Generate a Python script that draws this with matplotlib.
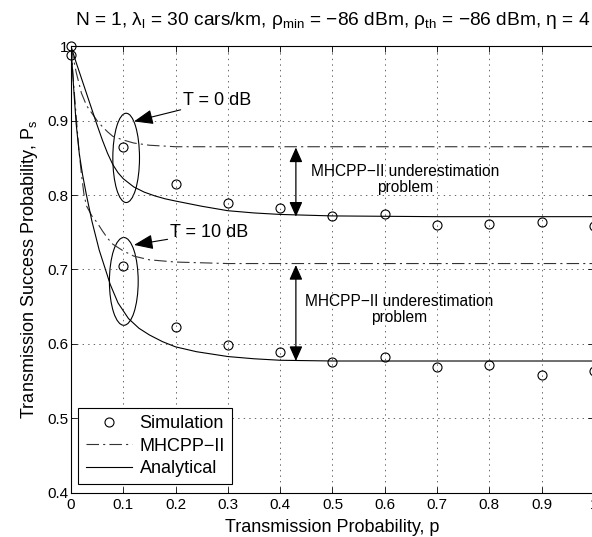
import matplotlib
matplotlib.use("Agg")
import matplotlib.pyplot as plt
from matplotlib.patches import Ellipse

plt.rcParams["font.family"] = ["Liberation Sans", "DejaVu Sans"]
plt.rcParams["mathtext.fontset"] = "custom"
plt.rcParams["mathtext.rm"] = "Liberation Sans"
plt.rcParams["mathtext.it"] = "Liberation Sans:italic"
plt.rcParams["lines.scale_dashes"] = False

# --- simulation points ---
p_sim = [0.0, 0.1, 0.2, 0.3, 0.4, 0.5, 0.6, 0.7, 0.8, 0.9, 1.0]
sim_t0 = [1.0, 0.864, 0.815, 0.790, 0.782, 0.772, 0.774, 0.760, 0.761, 0.764, 0.759]
sim_t10 = [0.988, 0.705, 0.623, 0.598, 0.589, 0.576, 0.583, 0.569, 0.571, 0.558, 0.564]

# --- analytical curves ---
p_ana_t0 = [0.0, 0.01, 0.02, 0.03, 0.04, 0.05, 0.06, 0.07, 0.08, 0.09, 0.10,
            0.12, 0.14, 0.16, 0.18, 0.20, 0.25, 0.30, 0.35, 0.40, 0.50, 0.70, 1.0]
ana_t0 = [1.0, 0.978, 0.957, 0.936, 0.915, 0.894, 0.874, 0.856, 0.841, 0.830, 0.822,
          0.811, 0.804, 0.799, 0.795, 0.792, 0.785, 0.779, 0.776, 0.774, 0.772, 0.771, 0.771]

p_ana_t10 = [0.0, 0.005, 0.01, 0.016, 0.022, 0.029, 0.04, 0.054, 0.065, 0.075, 0.09,
             0.11, 0.13, 0.15, 0.175, 0.20, 0.24, 0.30, 0.35, 0.40, 0.50, 0.70, 1.0]
ana_t10 = [1.0, 0.945, 0.895, 0.855, 0.828, 0.802, 0.765, 0.726, 0.702, 0.680, 0.655,
           0.634, 0.621, 0.612, 0.603, 0.596, 0.5895, 0.583, 0.580, 0.578, 0.577, 0.577, 0.577]

# --- MHCPP-II curves ---
p_mh_t0 = [0.0, 0.01, 0.02, 0.03, 0.04, 0.05, 0.06, 0.07, 0.08, 0.10, 0.12, 0.15, 0.20, 1.0]
mh_t0 = [1.0, 0.965, 0.937, 0.920, 0.910, 0.900, 0.892, 0.885, 0.879, 0.874, 0.870, 0.867, 0.865, 0.865]

p_mh_t10 = [0.0, 0.005, 0.01, 0.015, 0.02, 0.025, 0.03, 0.04, 0.05, 0.06, 0.07, 0.08,
            0.10, 0.12, 0.15, 0.20, 0.30, 1.0]
mh_t10 = [1.0, 0.95, 0.905, 0.862, 0.828, 0.800, 0.785, 0.772, 0.763, 0.752, 0.742, 0.734,
          0.725, 0.718, 0.713, 0.710, 0.708, 0.708]

x_ticks = [0, 0.1, 0.2, 0.3, 0.4, 0.5, 0.6, 0.7, 0.8, 0.9, 1.0]
x_labels = ["0", "0.1", "0.2", "0.3", "0.4", "0.5", "0.6", "0.7", "0.8", "0.9", "1"]
y_ticks = [0.4, 0.5, 0.6, 0.7, 0.8, 0.9, 1.0]
y_labels = ["0.4", "0.5", "0.6", "0.7", "0.8", "0.9", "1"]

fig = plt.figure(figsize=(5.92, 5.37), dpi=100)
ax = fig.add_axes([0.1199, 0.0825, 0.8835, 0.8313])

dashdot = (0, (9, 3, 1.5, 3))
lw = 0.8

sim_h, = ax.plot(p_sim, sim_t0, "o", ms=6.5, mfc="none", mec="black", mew=0.8,
                 clip_on=False, zorder=4, label="Simulation")
ax.plot(p_sim, sim_t10, "o", ms=6.5, mfc="none", mec="black", mew=0.8,
        clip_on=False, zorder=4)
mh_h, = ax.plot(p_mh_t0, mh_t0, color="0.2", lw=lw, linestyle=dashdot, label="MHCPP\u2212II")
ax.plot(p_mh_t10, mh_t10, color="0.2", lw=lw, linestyle=dashdot)
an_h, = ax.plot(p_ana_t0, ana_t0, color="black", lw=lw, label="Analytical")
ax.plot(p_ana_t10, ana_t10, color="black", lw=lw)

ax.set_xlim(0, 1)
ax.set_ylim(0.4, 1.0)
ax.set_xticks(x_ticks)
ax.set_xticklabels(x_labels)
ax.set_yticks(y_ticks)
ax.set_yticklabels(y_labels)
ax.tick_params(direction="in", top=True, right=True, length=4, width=0.6,
               labelsize=11)
ax.tick_params(axis="y", pad=2)
ax.tick_params(axis="x", pad=4)
for s in ax.spines.values():
    s.set_linewidth(0.8)
ax.grid(True, color="0.3", linestyle=(0, (1, 3)), linewidth=0.6)

ax.set_xlabel("Transmission Probability, p", fontsize=13, labelpad=5)
ax.set_ylabel("Transmission Success Probability, P$_\\mathrm{s}$", fontsize=13, labelpad=5)
ax.set_title("N = 1, \u03bb$_\\mathrm{l}$ = 30 cars/km, \u03c1$_\\mathrm{min}$ = \u221286 dBm, "
             "\u03c1$_\\mathrm{th}$ = \u221286 dBm, \u03b7 = 4", fontsize=13.8, pad=15)

# ellipses marking the T curves
ax.add_patch(Ellipse((0.1055, 0.85), 0.051, 0.12, fill=False, lw=0.8, color="black"))
ax.add_patch(Ellipse((0.101, 0.684), 0.055, 0.118, fill=False, lw=0.8, color="black"))

arrow_kw = dict(arrowstyle="-|>,head_length=0.9,head_width=0.35", color="black", lw=0.8,
                shrinkA=0, shrinkB=0)
ax.annotate("T = 0 dB", xy=(0.1205, 0.899), xytext=(0.215, 0.927),
            fontsize=13, va="center", ha="left", arrowprops=arrow_kw)
ax.annotate("T = 10 dB", xy=(0.1205, 0.733), xytext=(0.19, 0.750),
            fontsize=13, va="center", ha="left", arrowprops=arrow_kw)

dbl_kw = dict(arrowstyle="<|-|>,head_length=0.9,head_width=0.4", color="black", lw=0.9,
              shrinkA=0, shrinkB=0)
ax.annotate("", xy=(0.43, 0.771), xytext=(0.43, 0.864), arrowprops=dbl_kw)
ax.annotate("", xy=(0.43, 0.577), xytext=(0.43, 0.706), arrowprops=dbl_kw)
ax.text(0.639, 0.821, "MHCPP\u2212II underestimation\nproblem", fontsize=11.2,
        ha="center", va="center", linespacing=1.1)
ax.text(0.627, 0.646, "MHCPP\u2212II underestimation\nproblem", fontsize=11.2,
        ha="center", va="center", linespacing=1.1)

leg = ax.legend(handles=[sim_h, mh_h, an_h], loc="lower left",
                bbox_to_anchor=(0.014, 0.019), borderaxespad=0, fontsize=13,
                fancybox=False, edgecolor="black", framealpha=1, handlelength=2.6,
                handletextpad=0.4, labelspacing=0.3, borderpad=0.4)
leg.get_frame().set_linewidth(0.8)

fig.savefig("out.png", dpi=100)
